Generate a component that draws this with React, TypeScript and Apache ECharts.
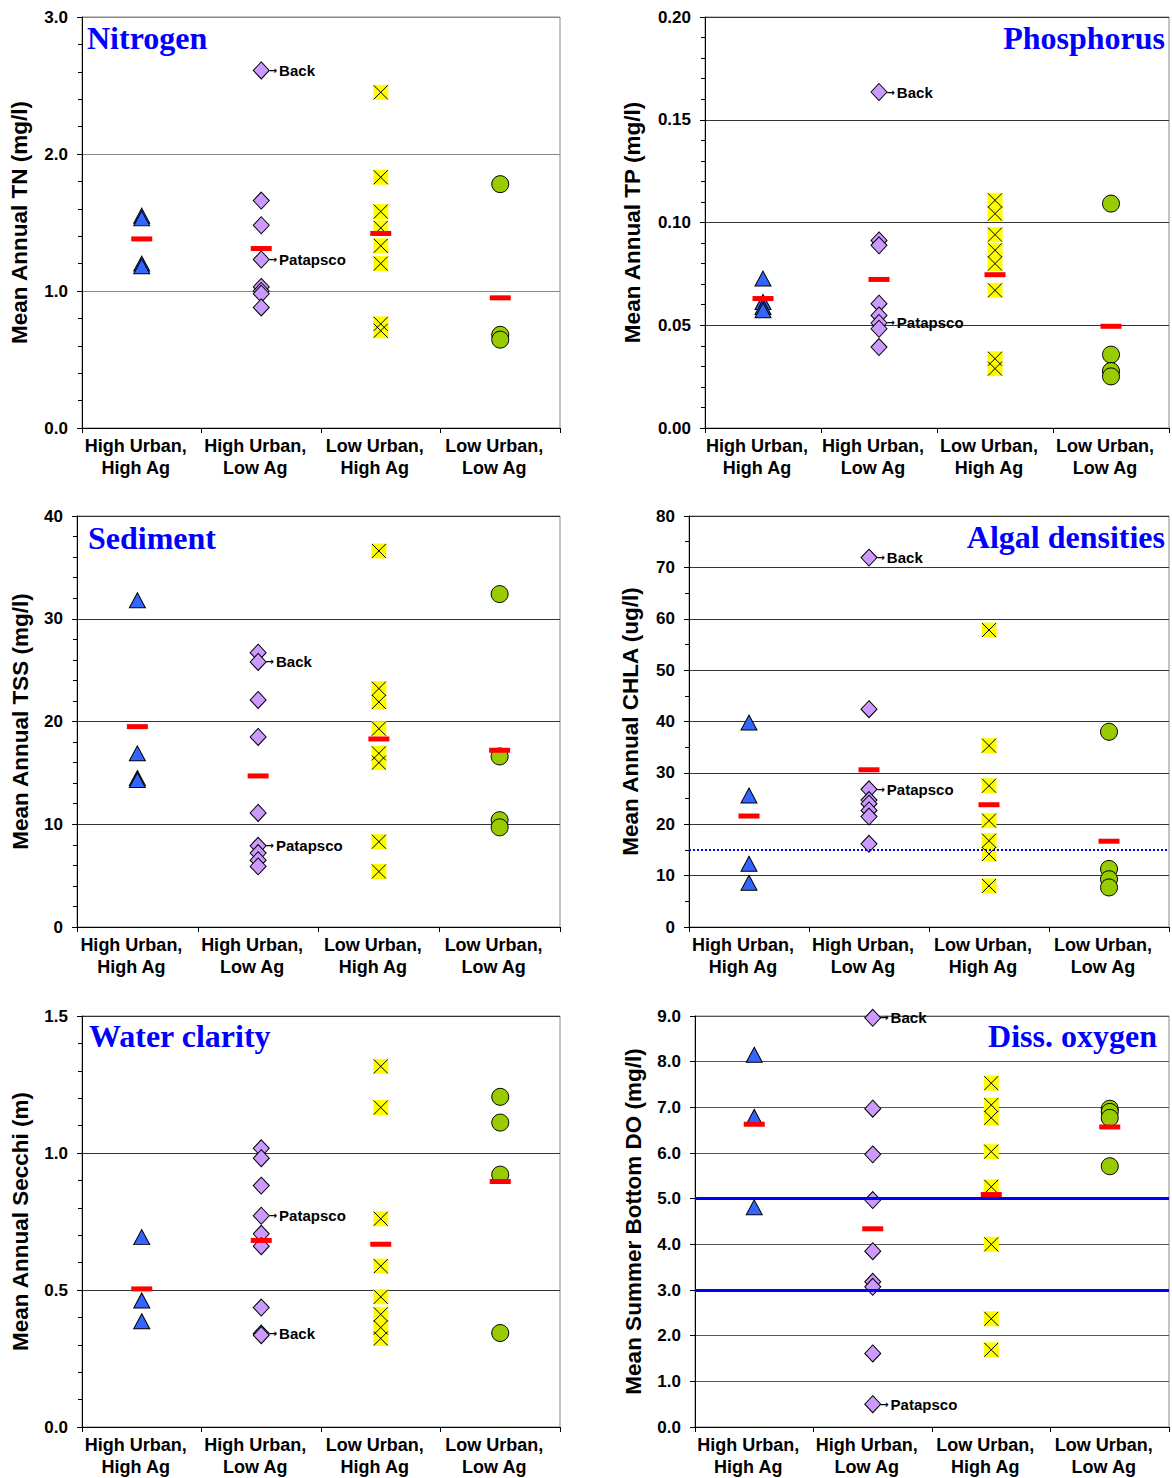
import React, { useEffect, useRef } from "react";
import * as echarts from "echarts";

const categories = ["High Urban,\nHigh Ag", "High Urban,\nLow Ag", "Low Urban,\nHigh Ag", "Low Urban,\nLow Ag"];

// Nitrogen
const tnHUHA = [1.55, 1.53, 1.2, 1.18];
const tnHULA = [2.61, 1.66, 1.48, 1.23, 1.03, 1.0, 0.98, 0.88];
const tnLUHA = [2.45, 1.83, 1.58, 1.46, 1.33, 1.2, 0.76, 0.71];
const tnLULA = [1.78, 0.68, 0.645];
const tnMeans = [1.38, 1.31, 1.42, 0.95];
const tnLabelled: [string, number][] = [["Back", 2.61], ["Patapsco", 1.23]];

// Phosphorus
const tpHUHA = [0.0727, 0.0613, 0.0589, 0.0573];
const tpHULA = [0.1635, 0.0913, 0.0889, 0.0605, 0.0548, 0.0511, 0.0483, 0.0394];
const tpLUHA = [0.1108, 0.1043, 0.0941, 0.0865, 0.08, 0.067, 0.0337, 0.0289];
const tpLULA = [0.1092, 0.0357, 0.0277, 0.0251];
const tpMeans = [0.063, 0.0723, 0.0746, 0.0495];
const tpLabelled: [string, number][] = [["Back", 0.1635], ["Patapsco", 0.0511]];

// Sediment
const tssHUHA = [31.8, 16.9, 14.5, 14.3];
const tssHULA = [26.7, 25.8, 22.1, 18.5, 11.1, 7.9, 7.2, 6.5, 5.9];
const tssLUHA = [36.6, 23.2, 21.9, 19.3, 16.9, 16.0, 8.3, 5.4];
const tssLULA = [32.4, 16.6, 10.4, 9.7];
const tssMeans = [19.5, 14.7, 18.3, 17.2];
const tssLabelled: [string, number][] = [["Back", 25.8], ["Patapsco", 7.9]];

// Algal densities
const chlaHUHA = [39.8, 25.6, 12.3, 8.6];
const chlaHULA = [71.9, 42.4, 26.8, 24.7, 24.0, 22.7, 21.5, 16.2];
const chlaLUHA = [57.8, 35.3, 27.5, 20.7, 16.8, 14.2, 8.0];
const chlaLULA = [38.0, 11.3, 9.3, 7.7];
const chlaMeans = [21.6, 30.6, 23.8, 16.7];
const chlaLabelled: [string, number][] = [["Back", 71.9], ["Patapsco", 26.8]];
const chlaRef = [15];

// Water clarity
const secHUHA = [0.693, 0.462, 0.386];
const secHULA = [1.017, 0.981, 0.881, 0.771, 0.705, 0.66, 0.436, 0.341, 0.335];
const secLUHA = [1.316, 1.166, 0.76, 0.587, 0.475, 0.411, 0.363, 0.323];
const secLULA = [1.205, 1.111, 0.921, 0.343];
const secMeans = [0.504, 0.681, 0.667, 0.896];
const secLabelled: [string, number][] = [["Patapsco", 0.771], ["Back", 0.341]];

// Dissolved oxygen
const doHUHA = [8.15, 6.79, 4.81];
const doHULA = [8.96, 6.97, 5.97, 4.97, 3.85, 3.18, 3.07, 1.61, 0.5];
const doLUHA = [7.53, 7.05, 6.77, 6.03, 5.26, 4.0, 2.37, 1.69];
const doLULA = [6.97, 6.9, 6.77, 5.71];
const doMeans = [6.63, 4.34, 5.09, 6.57];
const doLabelled: [string, number][] = [["Back", 8.96], ["Patapsco", 0.5]];
const doRef = [5.0, 3.0];

const SANS = "Liberation Sans";
const SERIF = "Liberation Serif";

const panels = [
  { title: "Nitrogen", right: false, name: "Mean Annual TN (mg/l)", max: 3, interval: 1, minor: 5, dec: 1,
    groups: [tnHUHA, tnHULA, tnLUHA, tnLULA], means: tnMeans, labelled: tnLabelled,
    grid: { left: 82, top: 17, width: 478, height: 411 }, nameGap: 51, gridColor: "#888", ref: [] as number[], refType: "solid", tx: 87, ty: 38 },
  { title: "Phosphorus", right: true, name: "Mean Annual TP (mg/l)", max: 0.2, interval: 0.05, minor: 5, dec: 2,
    groups: [tpHUHA, tpHULA, tpLUHA, tpLULA], means: tpMeans, labelled: tpLabelled,
    grid: { left: 705, top: 17, width: 464, height: 411 }, nameGap: 61, gridColor: "#333", ref: [] as number[], refType: "solid", tx: 1165, ty: 38 },
  { title: "Sediment", right: false, name: "Mean Annual TSS (mg/l)", max: 40, interval: 10, minor: 5, dec: 0,
    groups: [tssHUHA, tssHULA, tssLUHA, tssLULA], means: tssMeans, labelled: tssLabelled,
    grid: { left: 77, top: 516, width: 483, height: 411 }, nameGap: 45, gridColor: "#333", ref: [] as number[], refType: "solid", tx: 88, ty: 538 },
  { title: "Algal densities", right: true, name: "Mean Annual CHLA (ug/l)", max: 80, interval: 10, minor: 2, dec: 0,
    groups: [chlaHUHA, chlaHULA, chlaLUHA, chlaLULA], means: chlaMeans, labelled: chlaLabelled,
    grid: { left: 689, top: 516, width: 480, height: 411 }, nameGap: 47, gridColor: "#333", ref: chlaRef, refType: "dotted", tx: 1165, ty: 537 },
  { title: "Water clarity", right: false, name: "Mean Annual Secchi (m)", max: 1.5, interval: 0.5, minor: 5, dec: 1,
    groups: [secHUHA, secHULA, secLUHA, secLULA], means: secMeans, labelled: secLabelled,
    grid: { left: 82, top: 1016, width: 478, height: 411 }, nameGap: 50, gridColor: "#333", ref: [] as number[], refType: "solid", tx: 89, ty: 1036 },
  { title: "Diss. oxygen", right: true, name: "Mean Summer Bottom DO (mg/l)", max: 9, interval: 1, minor: 0, dec: 1,
    groups: [doHUHA, doHULA, doLUHA, doLULA], means: doMeans, labelled: doLabelled,
    grid: { left: 695, top: 1016, width: 474, height: 411 }, nameGap: 50, gridColor: "#555", ref: doRef, refType: "solid", tx: 1157, ty: 1036 },
];

function buildOption() {
  const grid: any[] = [];
  const xAxis: any[] = [];
  const yAxis: any[] = [];
  const series: any[] = [];
  const graphic: any[] = [];

  panels.forEach((p, i) => {
    grid.push({ ...p.grid, show: true, borderColor: "#888", borderWidth: 1, containLabel: false });
    xAxis.push({
      type: "category", gridIndex: i, data: categories, boundaryGap: true,
      axisLine: { show: true, lineStyle: { color: "#000", width: 1 } },
      axisTick: { show: true, length: 5, lineStyle: { color: "#000" } },
      axisLabel: { interval: 0, color: "#000", fontFamily: SANS, fontWeight: "bold", fontSize: 18, lineHeight: 22, margin: 7,
        padding: [0, 12, 0, 0] },
      splitLine: { show: false },
    });
    yAxis.push({
      type: "value", gridIndex: i, min: 0, max: p.max, interval: p.interval,
      name: p.name, nameLocation: "middle", nameGap: p.nameGap, nameRotate: 90,
      nameTextStyle: { color: "#000", fontFamily: SANS, fontWeight: "bold", fontSize: 22.5 },
      axisLine: { show: true, lineStyle: { color: "#000", width: 1 } },
      axisTick: { show: true, length: 5, lineStyle: { color: "#000" } },
      minorTick: { show: p.minor > 0, splitNumber: p.minor || 5, length: 4, lineStyle: { color: "#000" } },
      axisLabel: { color: "#000", fontFamily: SANS, fontWeight: "bold", fontSize: 17, margin: 14,
        formatter: (v: number) => v.toFixed(p.dec) },
      splitLine: { show: true, lineStyle: { color: p.gridColor, width: 1 } },
    });

    const base = { type: "scatter", xAxisIndex: i, yAxisIndex: i, silent: true, z: 3 };
    series.push({ ...base, symbol: "triangle", symbolSize: [16, 15],
      itemStyle: { color: "#3366FF", borderColor: "#000", borderWidth: 1, opacity: 1 },
      data: p.groups[0].map((v) => [0, v]) });
    series.push({ ...base, symbol: "diamond", symbolSize: [16, 17],
      itemStyle: { color: "#CC99FF", borderColor: "#000", borderWidth: 1, opacity: 1 },
      data: p.groups[1].map((v) => {
        const lab = p.labelled.find((l) => l[1] === v);
        if (!lab) return [1, v];
        return {
          value: [1, v],
          label: {
            show: true, position: "right", distance: -1,
            formatter: "{a|\u2192}{t|" + lab[0] + "}",
            rich: {
              a: { fontFamily: "DejaVu Sans", fontSize: 10, fontWeight: "bold", color: "#000", padding: [0, 2, 0, 0] },
              t: { fontFamily: SANS, fontSize: 15, fontWeight: "bold", color: "#000" },
            },
          },
        };
      }) });
    series.push({ ...base, symbol: "rect", symbolSize: 15,
      itemStyle: { color: "#FFFF00", borderWidth: 0, opacity: 1 },
      data: p.groups[2].map((v) => [2, v]) });
    series.push({ ...base, symbol: "path://M0,0L10,10M10,0L0,10", symbolSize: 14, z: 4,
      itemStyle: { color: "none", borderColor: "#000", borderWidth: 1, opacity: 1 },
      data: p.groups[2].map((v) => [2, v]) });
    series.push({ ...base, symbol: "circle", symbolSize: 17,
      itemStyle: { color: "#99CC00", borderColor: "#000", borderWidth: 1, opacity: 1 },
      data: p.groups[3].map((v) => [3, v]) });
    series.push({ ...base, symbol: "rect", symbolSize: [21, 5], z: 5,
      itemStyle: { color: "#FF0000", borderWidth: 0, opacity: 1 },
      data: p.means.map((v, k) => [k, v]),
      markLine: p.ref.length ? {
        silent: true, symbol: ["none", "none"], label: { show: false },
        lineStyle: { color: "#0000FF", width: p.refType === "dotted" ? 2 : 3, type: p.refType },
        data: p.ref.map((r) => ({ yAxis: r })),
      } : undefined });

    graphic.push({
      type: "text", x: p.tx, y: p.ty, z: 10, silent: true,
      style: { text: p.title, fill: "#0000FF", font: `bold 32px "${SERIF}"`, textAlign: p.right ? "right" : "left", textVerticalAlign: "middle" },
    });
  });

  return { animation: false, backgroundColor: "#fff", grid, xAxis, yAxis, series, graphic };
}

export default function App() {
  const ref = useRef<HTMLDivElement>(null);
  useEffect(() => {
    if (!ref.current) return;
    const chart = echarts.init(ref.current, undefined, { renderer: "svg" });
    chart.setOption(buildOption() as any);
    return () => chart.dispose();
  }, []);
  return <div ref={ref} style={{ position: "absolute", left: 0, top: 0, width: 1172, height: 1478 }} />;
}
